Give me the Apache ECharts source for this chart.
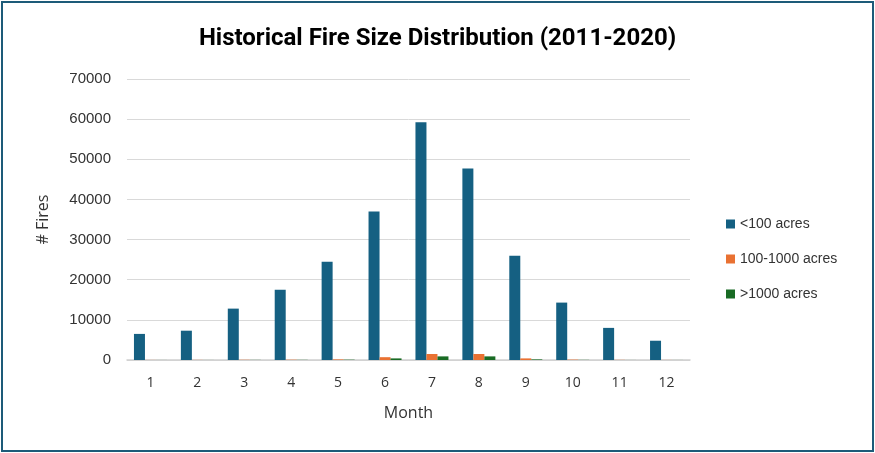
<!DOCTYPE html>
<html>
<head>
<meta charset="UTF-8">
<script src="https://cdn.jsdelivr.net/npm/echarts@6/dist/echarts.min.js"></script>
<style>
body{margin:0;padding:0;background:#fff;}
#main{position:absolute;left:1px;top:1px;width:869px;height:447px;border:2px solid #1d5b79;}
</style>
</head>
<body>
<div id="main"></div>
<script>
var months = ['1','2','3','4','5','6','7','8','9','10','11','12'];
var small = [6500,7300,12800,17500,24500,37000,59200,47700,26000,14300,8000,4800];
var medium = [20,30,60,80,150,700,1500,1500,400,100,40,20];
var large = [10,10,30,40,80,400,900,900,150,40,10,10];

var chart = echarts.init(document.getElementById('main'));
chart.setOption({
    animation:false,
    title:{text:'Historical Fire Size Distribution (2011-2020)',left:'center',top:19,
        textStyle:{fontFamily:'Roboto',fontSize:24,fontWeight:'bold',color:'#000'}},
    legend:{orient:'vertical',left:718,top:209,itemGap:21,itemWidth:9,itemHeight:9,icon:'rect',
        textStyle:{fontFamily:'Liberation Sans',fontSize:14,color:'#333'}},
    grid:{left:124,right:182,top:76,bottom:90},
    xAxis:{type:'category',data:months,name:'Month',nameLocation:'middle',nameGap:45,
        nameTextStyle:{fontFamily:'Open Sans',fontSize:16,color:'#333'},
        axisLine:{lineStyle:{color:'#d0d0d0',width:1.5}},axisTick:{show:false},
        axisLabel:{fontFamily:'Open Sans',fontSize:14,color:'#333',margin:16}},
    yAxis:{type:'value',min:0,max:70000,interval:10000,name:'# Fires',nameLocation:'middle',nameGap:76,
        nameTextStyle:{fontFamily:'Open Sans',fontSize:16,color:'#333'},
        axisLabel:{fontFamily:'Liberation Sans',fontSize:15,color:'#333',margin:16,
            formatter:function(v){return String(v);}},
        splitLine:{lineStyle:{color:'#d9d9d9'}}},
    series:[
        {name:'<100 acres',type:'bar',data:small,itemStyle:{color:'#156082'},barWidth:11,barGap:'0%',barCategoryGap:'56%'},
        {name:'100-1000 acres',type:'bar',data:medium,itemStyle:{color:'#e97132'},barWidth:11},
        {name:'>1000 acres',type:'bar',data:large,itemStyle:{color:'#196b24'},barWidth:11}
    ]
});
</script>
</body>
</html>
